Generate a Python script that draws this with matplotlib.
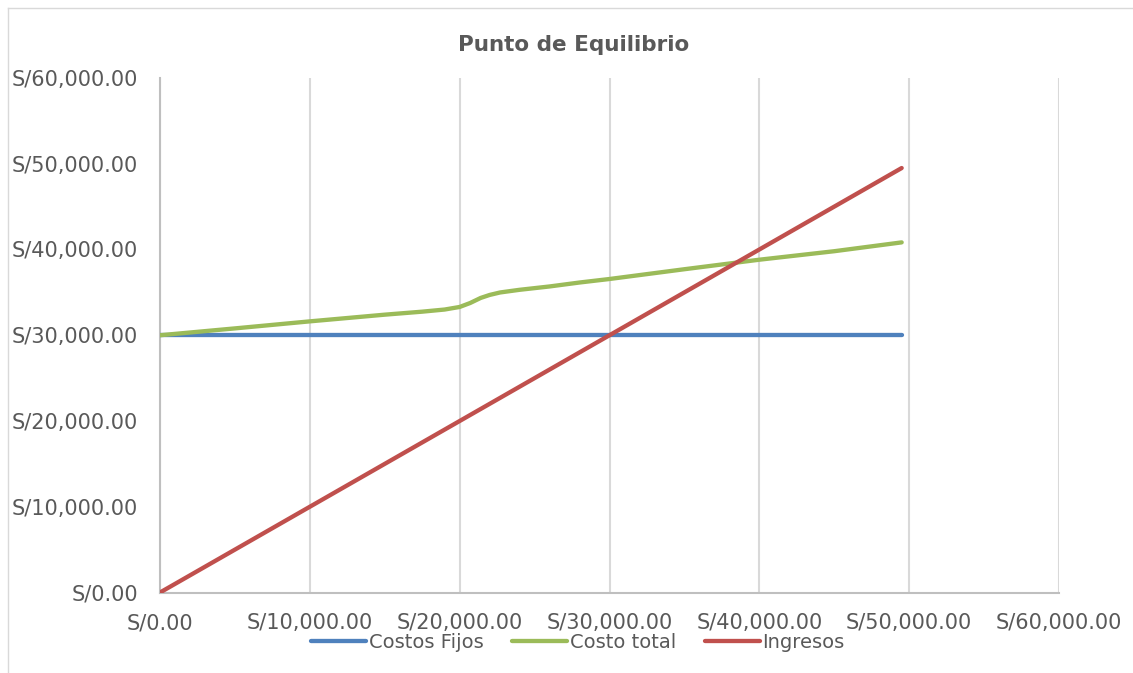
import matplotlib
matplotlib.use("Agg")
import matplotlib.pyplot as plt
from matplotlib.ticker import FuncFormatter, MultipleLocator
from matplotlib.lines import Line2D

# Series data (soles)
fijos_x = [0, 49500]
fijos_y = [30000, 30000]

total_x = [0, 5000, 10000, 15000, 17500, 19000, 20000, 20700, 21400, 22000,
           22700, 24000, 26000, 28000, 30000, 35000, 40000, 45000, 49500]
total_y = [30000, 30800, 31620, 32400, 32750, 33000, 33300, 33760, 34350, 34700,
           34990, 35300, 35690, 36150, 36560, 37700, 38810, 39800, 40830]

ingresos_x = [0, 49500]
ingresos_y = [0, 49500]

series_names = ["Costos Fijos", "Costo total", "Ingresos"]
series_colors = ["#4F81BD", "#9BBB59", "#C0504D"]
title = "Punto de Equilibrio"

text_color = "#595959"
plt.rcParams["font.family"] = ["DejaVu Sans"]

W, H = 1133, 673
fig = plt.figure(figsize=(W / 100, H / 100), dpi=100)

# chart-area frame (left and top edges visible)
fig.add_artist(Line2D([8 / W, 8 / W], [0, 1 - 8 / H], transform=fig.transFigure,
                      color="#D9D9D9", lw=1))
fig.add_artist(Line2D([8 / W, 1], [1 - 8 / H, 1 - 8 / H], transform=fig.transFigure,
                      color="#D9D9D9", lw=1))

ax = fig.add_axes([160 / W, 1 - 592.5 / H, (1059 - 160) / W, (592.5 - 78) / H])

lw = 3.1
for (xs, ys), name, col in zip([(fijos_x, fijos_y), (total_x, total_y), (ingresos_x, ingresos_y)],
                               series_names, series_colors):
    ax.plot(xs, ys, color=col, lw=lw, label=name, solid_capstyle="round",
            solid_joinstyle="round", zorder=3)

ax.set_xlim(0, 60000)
ax.set_ylim(0, 60000)
ax.xaxis.set_major_locator(MultipleLocator(10000))
ax.yaxis.set_major_locator(MultipleLocator(10000))
fmt = FuncFormatter(lambda v, p: "S/{:,.2f}".format(v))
ax.xaxis.set_major_formatter(fmt)
ax.yaxis.set_major_formatter(fmt)

ax.grid(axis="x", color="#D9D9D9", lw=1.5, zorder=0)
ax.grid(axis="y", visible=False)
for s in ["top", "right"]:
    ax.spines[s].set_visible(False)
for s in ["left", "bottom"]:
    ax.spines[s].set_color("#BFBFBF")
    ax.spines[s].set_linewidth(1.5)

ax.tick_params(axis="both", length=0, labelsize=15, colors=text_color)
ax.tick_params(axis="x", pad=15)
ax.tick_params(axis="y", pad=16)

fig.text(574 / W, 1 - 45 / H, title, ha="center", va="center", fontsize=15.5,
         fontweight="bold", color=text_color)

leg = ax.legend(loc="center", bbox_to_anchor=(578 / W, 1 - 642 / H),
                bbox_transform=fig.transFigure, ncol=3, frameon=False,
                fontsize=14, handlelength=2.8, handletextpad=0.15,
                columnspacing=1.5, labelcolor=text_color)

fig.savefig("out.png", dpi=100, facecolor="white")
